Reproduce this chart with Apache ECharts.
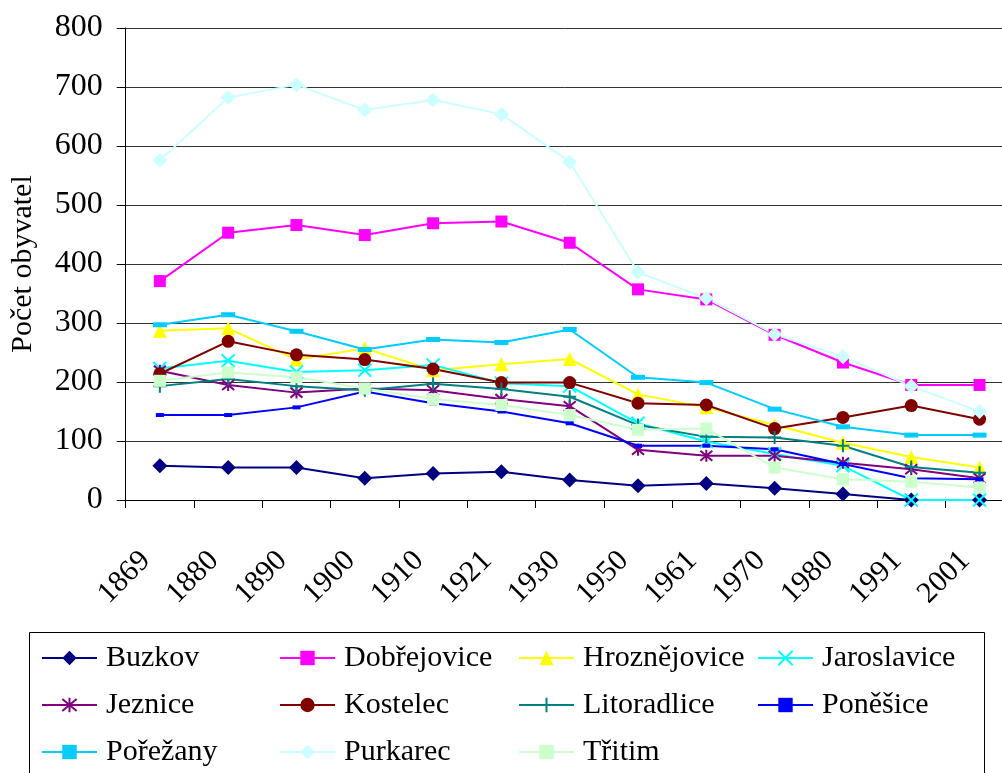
<!DOCTYPE html>
<html>
<head>
<meta charset="utf-8">
<script src="https://cdn.jsdelivr.net/npm/echarts@6/dist/echarts.min.js"></script>
<style>
html,body{margin:0;padding:0;background:#fff;}
#chart{width:1002px;height:773px;}
</style>
</head>
<body>
<div id="chart"></div>
<script>
const years = ['1869','1880','1890','1900','1910','1921','1930','1950','1961','1970','1980','1991','2001'];
const yTicks = [0,100,200,300,400,500,600,700,800];

const buzkov       = [58,55,55,37,45,48,34,24,28,20,10,0,0];
const dobrejovice  = [371,453,466,449,469,472,436,357,340,280,233,195,195];
const hroznejovice = [287,291,238,257,220,230,239,179,157,127,97,73,55];
const jaroslavice  = [223,236,217,220,229,198,193,130,99,78,58,0,0];
const jeznice      = [219,195,182,189,186,171,159,85,75,75,63,52,37];
const kostelec     = [214,269,246,238,222,199,199,164,161,121,140,160,137];
const litoradlice  = [193,205,193,186,197,188,175,127,107,106,92,56,46];
const ponesice     = [144,144,157,184,164,150,130,92,92,86,61,37,35];
const porezany     = [297,314,286,255,272,267,289,208,199,154,124,110,110];
const purkarec     = [576,682,704,661,678,654,573,386,342,281,243,193,150];
const tritim       = [202,216,208,189,171,161,144,119,121,55,35,31,21];

const names = ['Buzkov','Dobřejovice','Hroznějovice','Jaroslavice','Jeznice','Kostelec','Litoradlice','Poněšice','Pořežany','Purkarec','Třitim'];
const values = [buzkov,dobrejovice,hroznejovice,jaroslavice,jeznice,kostelec,litoradlice,ponesice,porezany,purkarec,tritim];
const colors = ['#000080','#FF00FF','#FFFF00','#00FFFF','#800080','#800000','#008080','#0000FF','#00CCFF','#CCFFFF','#CCFFCC'];

const X = 'path://M0,0L10,10M10,0L0,10';
const STAR = 'path://M0,0L10,10M10,0L0,10M5,-1L5,11';
const PLUS = 'path://M5,0L5,10M0,5L10,5';
const symbols = [
  {s:'diamond', z:15},
  {s:'rect', z:12},
  {s:'triangle', z:14},
  {s:X, z:13, stroke:true},
  {s:STAR, z:12, stroke:true},
  {s:'circle', z:13},
  {s:PLUS, z:13, stroke:true},
  {s:'rect', z:[8,4]},
  {s:'rect', z:[14,5]},
  {s:'diamond', z:15},
  {s:'rect', z:12}
];

const font = 'Liberation Serif, Times New Roman, serif';

const series = names.map((n,i)=>{
  const sym = symbols[i];
  const itemStyle = {color: colors[i]};
  if (sym.stroke) { itemStyle.borderColor = colors[i]; itemStyle.borderWidth = 2; }
  return {
    name: n, type:'line', data: values[i],
    symbol: sym.s, symbolSize: sym.z, showAllSymbol: true,
    lineStyle:{color: colors[i], width: 2},
    itemStyle: itemStyle,
    emphasis:{disabled:true}
  };
});

const colX = [41, 279, 518, 757];
const rowY = [660, 707, 754];
const legends = names.map((n,i)=>({
  data:[n],
  left: colX[i%4],
  top: rowY[Math.floor(i/4)] - 17,
  padding: 0,
  itemWidth: 55,
  itemHeight: 18,
  itemGap: 0,
  selectedMode: false,
  textStyle:{fontSize:30, fontFamily: font, color:'#000', padding:[0,0,0,4]}
}));

const chart = echarts.init(document.getElementById('chart'));
chart.setOption({
  animation:false,
  backgroundColor:'#fff',
  grid:{left:125.7, top:28, width:888, height:472, containLabel:false, outerBoundsMode:'none'},
  xAxis:{
    type:'category', data: years, boundaryGap:true,
    axisLine:{lineStyle:{color:'#000', width:1}},
    axisTick:{show:true, length:8, lineStyle:{color:'#000'}},
    axisLabel:{rotate:45, fontSize:30, fontFamily:font, color:'#000', margin:42, padding:[0,20,0,0], interval:0},
    splitLine:{show:false}
  },
  yAxis:{
    type:'value', min:0, max:800, interval:100,
    name:'Počet obyvatel', nameLocation:'middle', nameRotate:90, nameGap:88,
    nameTextStyle:{fontSize:30, fontFamily:font, color:'#000'},
    axisLine:{show:true, lineStyle:{color:'#000', width:1}},
    axisTick:{show:true, length:9, lineStyle:{color:'#000'}},
    axisLabel:{fontSize:32, fontFamily:font, color:'#000', margin:23},
    splitLine:{show:true, lineStyle:{color:'#333', width:1}}
  },
  legend: legends,
  graphic:[{
    type:'rect', shape:{x:29.5, y:632.5, width:955, height:160},
    style:{fill:'none', stroke:'#000', lineWidth:1}, silent:true
  }],
  series: series
});
</script>
</body>
</html>
